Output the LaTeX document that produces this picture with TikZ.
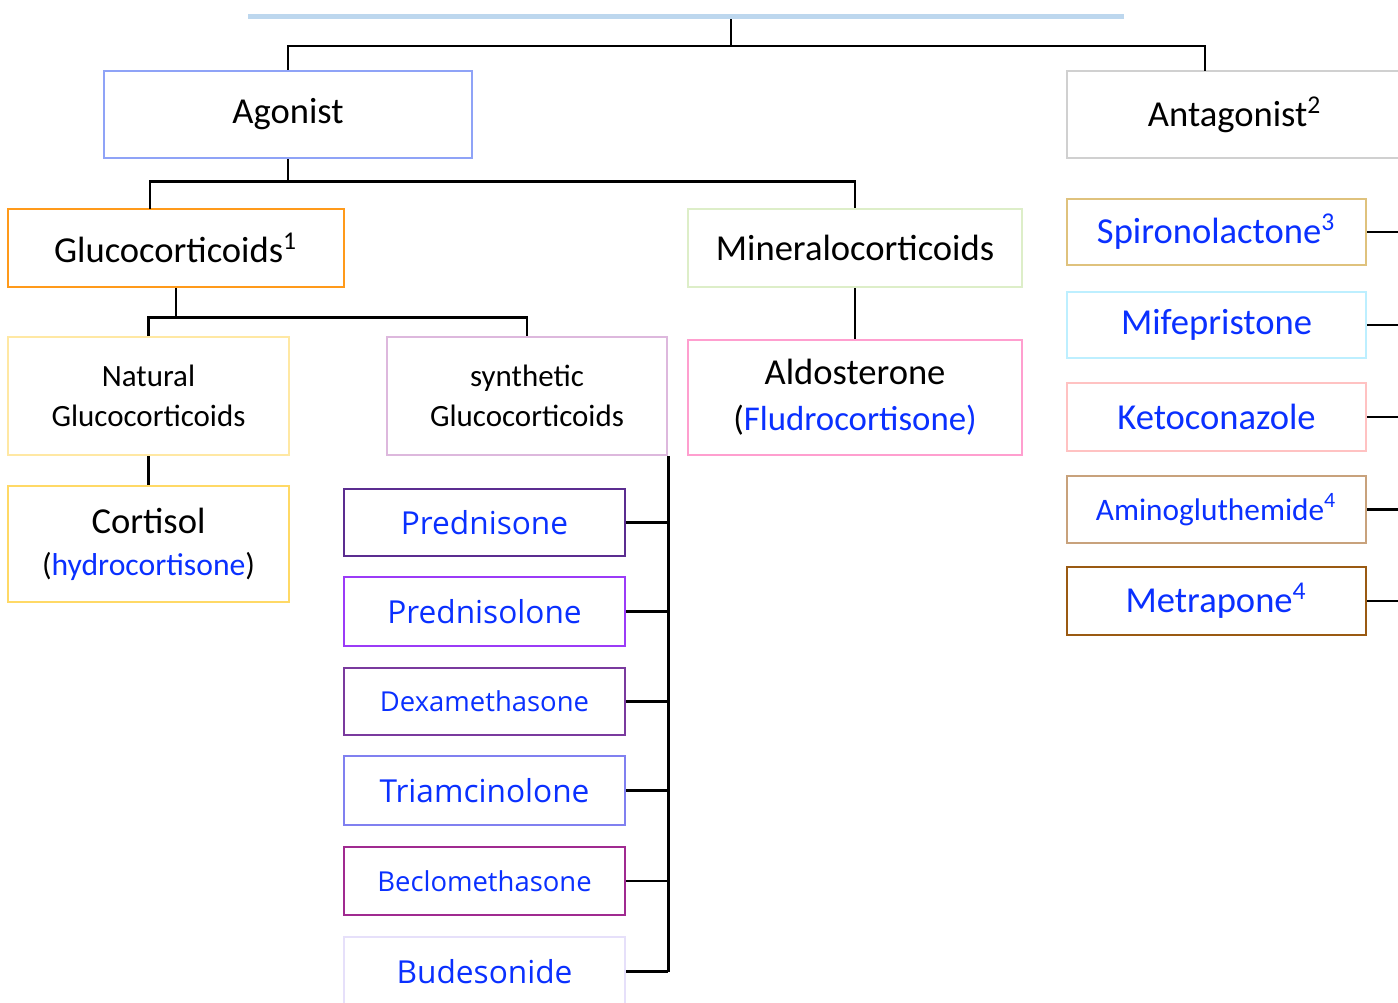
\documentclass[tikz,border=0pt]{standalone}
\usepackage{fontspec}
\setmainfont{Carlito}
\newfontfamily\segoe{Open Sans}
\usepackage{xcolor}
\usepackage{tikz}
\usetikzlibrary{calc}
\definecolor{rulecol}{HTML}{BDD7EE}
\definecolor{agoncol}{HTML}{8FA3F7}
\definecolor{antcol}{HTML}{D0D0D0}
\definecolor{glucol}{HTML}{FF9A1A}
\definecolor{minecol}{HTML}{DDEEC8}
\definecolor{natcol}{HTML}{FFE8A3}
\definecolor{syncol}{HTML}{DDB8DD}
\definecolor{cortcol}{HTML}{FFD966}
\definecolor{aldocol}{HTML}{FF9FCF}
\definecolor{psoncol}{HTML}{5B2D90}
\definecolor{plonecol}{HTML}{9B3BF7}
\definecolor{dexacol}{HTML}{7A3A9E}
\definecolor{triamcol}{HTML}{8080F0}
\definecolor{beclocol}{HTML}{A02A90}
\definecolor{budescol}{HTML}{E6E0FA}
\definecolor{spirocol}{HTML}{DFC27D}
\definecolor{mifecol}{HTML}{BDEFFF}
\definecolor{ketocol}{HTML}{FFC2C2}
\definecolor{aminocol}{HTML}{C8A27C}
\definecolor{metracol}{HTML}{9A5A12}
\definecolor{drug}{HTML}{0A30FF}
\tikzset{
  box/.style={draw, line width=0.8pt, fill=white, align=center, inner sep=0pt},
  wh/.style 2 args={minimum width=#1*0.01cm, minimum height=#2*0.01cm},
  link/.style={draw=black, line width=0.65pt},
  rulebar/.style={fill=rulecol, inner sep=0pt, minimum width=8.76cm, minimum height=0.05cm},
  big/.style={font=\fontsize{10.4}{13}\selectfont},
  small/.style={font=\fontsize{8.8}{11.4}\selectfont},
  syn/.style={text=drug, font=\segoe\fontsize{9}{11}\selectfont},
  synsm/.style={text=drug, font=\segoe\fontsize{7.8}{10}\selectfont},
  ant/.style={text=drug, font=\fontsize{10.4}{13}\selectfont},
}
\newcommand{\sub}[1]{{\fontsize{9}{12}\selectfont #1}}

\begin{document}
\begin{tikzpicture}[x=0.01cm,y=-0.01cm]
  \path[use as bounding box, fill=white] (0,0) rectangle (1398,1002);
  \clip (0,0) rectangle (1398,1002);
  % top level
  \node[rulebar] (title) at (686,16) {};
  \node[box, draw=agoncol, wh={368}{87}, big] (agon) at (288,114.5) {Agonist};
  \node[box, draw=antcol, wh={336}{87}, big] (antag) at (1235,114.5) {Antagonist\textsuperscript{2}};
  \coordinate (j1) at (731,46);
  \coordinate (antagIn) at (1205,71);
  \draw[link] (title.south -| j1) -- (j1);
  \draw[link] (agon.north) |- (j1) -| (antagIn);
  % agonist branch
  \node[box, draw=glucol, wh={336}{78}, big] (gluco) at (176,248) {Glucocorticoids\textsuperscript{1}};
  \node[box, draw=minecol, wh={334}{78}, big] (mineral) at (855,248) {Mineralocorticoids};
  \coordinate (glucoIn) at (150,209);
  \draw[link] (agon.south) -- ++(0,22) coordinate (j2);
  \draw[link] (glucoIn) |- (j2) -| (mineral.north);
  \node[box, draw=natcol, wh={281}{118}, small] (natural) at (148.5,396) {Natural\\Glucocorticoids};
  \node[box, draw=syncol, wh={280}{118}, small] (synth) at (527,396) {synthetic\\Glucocorticoids};
  \draw[link] (gluco.south) -- ++(0,29) coordinate (j3);
  \draw[link] (natural.north) |- (j3) -| (synth.north);
  \node[box, draw=cortcol, wh={281}{116}, big] (cortisol) at (148.5,544)
    {Cortisol\\[-1pt]\sub{(\textcolor{drug}{hydrocortisone})}};
  \draw[link] (natural) -- (cortisol);
  \node[box, draw=aldocol, wh={334}{115}, big] (aldo) at (855,397.5)
    {Aldosterone\\{\fontsize{9.9}{13}\selectfont(\textcolor{drug}{Fludrocortisone)}}};
  \draw[link] (mineral) -- (aldo);
  % synthetic glucocorticoids
  \node[box, draw=psoncol, wh={281}{67}, syn] (pson) at (484.5,522.5) {Prednisone};
  \node[box, draw=plonecol, wh={281}{69}, syn] (plone) at (484.5,611.5) {Prednisolone};
  \node[box, draw=dexacol, wh={281}{67}, synsm] (dexa) at (484.5,701.5) {Dexamethasone};
  \node[box, draw=triamcol, wh={281}{69}, syn] (triam) at (484.5,790.5) {Triamcinolone};
  \node[box, draw=beclocol, wh={281}{68}, synsm] (beclo) at (484.5,881) {Beclomethasone};
  \node[box, draw=budescol, wh={281}{69}, syn] (budes) at (484.5,971.5) {Budesonide};
  \draw[link] (synth.south east) -- (synth.south east |- budes.east);
  \draw[link] (pson.east) -- (pson.east -| synth.east);
  \draw[link] (plone.east) -- (plone.east -| synth.east);
  \draw[link] (dexa.east) -- (dexa.east -| synth.east);
  \draw[link] (triam.east) -- (triam.east -| synth.east);
  \draw[link] (beclo.east) -- (beclo.east -| synth.east);
  \draw[link] (budes.east) -- (budes.east -| synth.east);
  % antagonists
  \coordinate (edge) at (1398,0);
  \node[box, draw=spirocol, wh={299}{66}, ant] (spiro) at (1216.5,232) {Spironolactone\textsuperscript{3}};
  \node[box, draw=mifecol, wh={299}{66}, ant] (mife) at (1216.5,325) {Mifepristone};
  \node[box, draw=ketocol, wh={299}{68}, ant] (keto) at (1216.5,417) {Ketoconazole};
  \node[box, draw=aminocol, wh={299}{67}, ant, font=\fontsize{8.9}{11}\selectfont] (amino) at (1216.5,509.5) {Aminogluthemide\textsuperscript{4}};
  \node[box, draw=metracol, wh={299}{68}, ant] (metra) at (1216.5,601) {Metrapone\textsuperscript{4}};
  \draw[link] (spiro.east) -- (spiro.east -| edge);
  \draw[link] (mife.east) -- (mife.east -| edge);
  \draw[link] (keto.east) -- (keto.east -| edge);
  \draw[link] (amino.east) -- (amino.east -| edge);
  \draw[link] (metra.east) -- (metra.east -| edge);
\end{tikzpicture}
\end{document}
